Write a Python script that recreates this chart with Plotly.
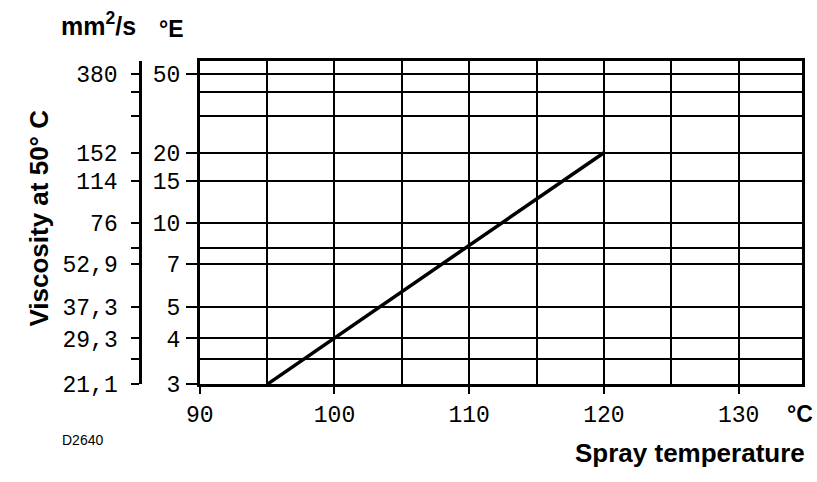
import numpy as np
import plotly.graph_objects as go

# ---- data -------------------------------------------------------------
temps_c = [95, 120]            # spray temperature, °C
visc_engler = [3, 20]          # viscosity at 50 °C, °E

x_ticks = [90, 100, 110, 120, 130]
x_grid_step = 5

engler_ticks = [3, 4, 5, 7, 10, 15, 20, 50]
engler_labels = ["3", "4", "5", "7", "10", "15", "20", "50"]
mm2s_labels = ["21,1", "29,3", "37,3", "52,9", "76", "114", "152", "380"]
engler_minor = [3.5, 8, 30, 40]

# ---- viscosity scale (double-log, ASTM style) -------------------------
def engler_to_cst(e):
    e = np.asarray(e, dtype=float)
    return 7.6 * e - 5.1 / e


def visc_scale(e):
    return np.log10(np.log10(engler_to_cst(e) + 0.7))


Y_BOTTOM_E = 3
Y_TOP_E = 59
y_range = [float(visc_scale(Y_BOTTOM_E)), float(visc_scale(Y_TOP_E))]

# ---- page geometry (pixels) -------------------------------------------
W, H = 817, 482
PLOT_L, PLOT_R = 189, 801.7
PLOT_T, PLOT_B = 62.5, 396.7
MM_AXIS_X = 128.5


def px(x):
    return x / W


def py(y):
    return 1 - y / H


mono = dict(family="Liberation Mono", size=23, color="black")
sans = "Liberation Sans, Arial, sans-serif"

fig = go.Figure()

fig.add_trace(go.Scatter(
    x=temps_c, y=visc_scale(visc_engler),
    mode="lines", line=dict(color="black", width=3.5),
    hoverinfo="skip", showlegend=False,
))

# second (mm²/s) scale shares the same viscosity range
fig.add_trace(go.Scatter(
    x=temps_c, y=visc_scale(visc_engler), yaxis="y2",
    mode="lines", line=dict(color="rgba(0,0,0,0)", width=0),
    hoverinfo="skip", showlegend=False,
))

fig.update_layout(
    width=W, height=H,
    margin=dict(l=0, r=0, t=0, b=0),
    paper_bgcolor="white", plot_bgcolor="white",
    showlegend=False,
    xaxis=dict(
        domain=[px(PLOT_L), px(PLOT_R)],
        range=[90, 134.7],
        tickmode="array", tickvals=x_ticks,
        ticks="outside", ticklen=7, tickwidth=2, tickcolor="black",
        ticklabelstandoff=0,
        tickfont=mono,
        showline=True, linecolor="black", linewidth=2.5, mirror=True,
        showgrid=True, gridcolor="black", gridwidth=1.6,
        minor=dict(tick0=90, dtick=x_grid_step, showgrid=True,
                   gridcolor="black", gridwidth=1.6, ticks=""),
        zeroline=False,
    ),
    yaxis=dict(
        domain=[py(PLOT_B), py(PLOT_T)],
        range=y_range,
        tickmode="array",
        tickvals=visc_scale(engler_ticks).tolist(),
        ticktext=engler_labels,
        ticks="outside", ticklen=11, tickwidth=2, tickcolor="black",
        ticklabelstandoff=1,
        tickfont=mono,
        showline=True, linecolor="black", linewidth=2.5, mirror=True,
        showgrid=True, gridcolor="black", gridwidth=1.6,
        minor=dict(tickmode="array",
                   tickvals=visc_scale(engler_minor).tolist(),
                   showgrid=True, gridcolor="black", gridwidth=1.6, ticks=""),
        zeroline=False,
    ),
    yaxis2=dict(
        overlaying="y", anchor="free", side="left",
        position=px(MM_AXIS_X),
        range=y_range,
        tickmode="array",
        tickvals=visc_scale(engler_ticks).tolist(),
        ticktext=mm2s_labels,
        ticks="outside", ticklen=8, tickwidth=2, tickcolor="black",
        ticklabelstandoff=9,
        tickfont=mono,
        minor=dict(tickmode="array",
                   tickvals=visc_scale(engler_minor).tolist(),
                   ticks="outside", ticklen=8, tickwidth=2,
                   tickcolor="black", showgrid=False),
        showline=True, linecolor="black", linewidth=3,
        showgrid=False, zeroline=False,
    ),
)

ann = [
    dict(text="<b>mm<sup>2</sup>/s</b>", x=px(46), y=py(25),
         xanchor="left", yanchor="middle", font=dict(family=sans, size=25)),
    dict(text="<b>°E</b>", x=px(160), y=py(30),
         xanchor="center", yanchor="middle", font=dict(family=sans, size=23)),
    dict(text="<b>Viscosity at 50° C</b>", x=px(25), y=py(225), textangle=-90,
         xanchor="center", yanchor="middle", font=dict(family=sans, size=26)),
    dict(text="<b>°C</b>", x=px(800), y=py(427),
         xanchor="center", yanchor="middle", font=dict(family=sans, size=23)),
    dict(text="<b>Spray temperature</b>", x=px(688), y=py(468),
         xanchor="center", yanchor="middle", font=dict(family=sans, size=26)),
    dict(text="D2640", x=px(70), y=py(454),
         xanchor="center", yanchor="middle", font=dict(family=sans, size=14)),
]
for a in ann:
    a.update(xref="paper", yref="paper", showarrow=False)
    a["font"]["color"] = "black"
fig.update_layout(annotations=ann)

fig.write_html("out.html")
